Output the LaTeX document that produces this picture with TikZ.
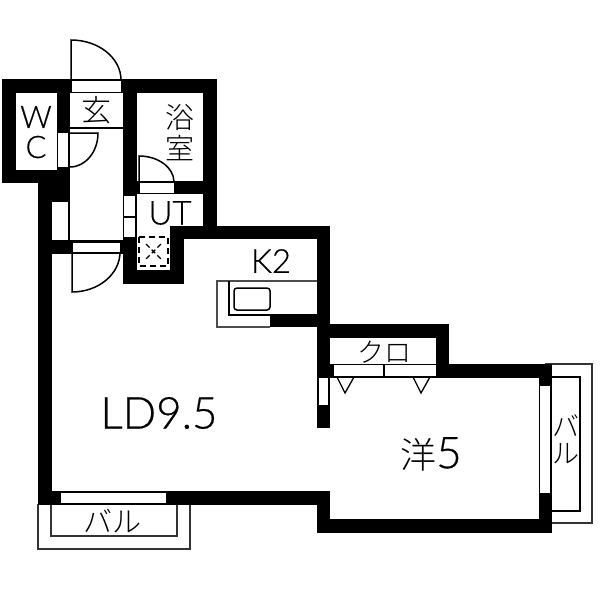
\documentclass[tikz,border=0pt]{standalone}
\usepackage{fontspec}
\setmainfont[FakeBold=0.5]{Lato Light}
\newfontfamily\cjk{Noto Sans CJK JP Light}
\usepackage{xcolor}
\usepackage{tikz}
\usetikzlibrary{positioning, calc}

\tikzset{
    wall/.style={fill=black, draw=none},
    opening/.style={fill=white, draw=black, line width=1pt},
    thinline/.style={draw=black, line width=1.3pt},
    door/.style={draw=black, line width=1.5pt},
    roomlabel/.style={inner sep=0pt, text=black}
}
\newcommand{\textsized}[1]{\fontsize{#1}{#1}\selectfont}

\begin{document}
\begin{tikzpicture}[x=1pt, y=-1pt]
                \useasboundingbox (0,0) rectangle (600,600);

                % balconies
                \draw[thinline, draw=black!80] (38,504) -- (38,549) -- (190,549) -- (190,504);
                \draw[thinline, line width=1.6pt, draw=black!80] (51,504) -- (51,536) -- (177,536) -- (177,504);
                \draw[thinline, draw=black!80] (545,364) -- (592,364) -- (592,523) -- (552,523);
                \draw[thinline, line width=1.6pt] (552,377) -- (580,377) -- (580,511) -- (552,511);

                % kitchen counter
                \draw[thinline, draw=black!70] (317,281) -- (217,281) -- (217,327) -- (270,327);
                \draw[thinline] (229,281) -- (229,315) -- (270,315);
                \draw[door, rounded corners=3pt] (234,288) rectangle (270,310);

                % walls
                \fill[wall] (2,79) rectangle (217,93);
                \fill[wall] (2,79) rectangle (16,183);
                \fill[wall] (2,170) rectangle (70,183);
                \fill[wall] (57,79) rectangle (70,202);
                \fill[wall] (38,183) rectangle (52,505);
                \fill[wall] (52,183) rectangle (70,202);
                \fill[wall] (38,240) rectangle (123,254);
                \fill[wall] (123,79) rectangle (137,284);
                \fill[wall] (123,270) rectangle (184,284);
                \fill[wall] (170,226) rectangle (184,284);
                \fill[wall] (137,181) rectangle (217,194);
                \fill[wall] (203,79) rectangle (217,239);
                \fill[wall] (170,226) rectangle (330,239);
                \fill[wall] (317,226) rectangle (330,428);
                \fill[wall] (270,314) rectangle (317,327);
                \fill[wall] (317,324) rectangle (449,338);
                \fill[wall] (436,324) rectangle (449,378);
                \fill[wall] (330,364) rectangle (333,378);
                \draw[thinline] (333,377) -- (436,377);
                \fill[wall] (436,364) rectangle (552,378);
                \fill[wall] (539,364) rectangle (552,533);
                \fill[wall] (317,519) rectangle (552,533);
                \fill[wall] (317,491) rectangle (330,533);
                \fill[wall] (38,491) rectangle (330,505);

                % openings
                \draw[opening] (71,80) rectangle (121,92);
                \fill[white] (58,133) rectangle (69,167);
                \fill[white] (52,202) rectangle (68,240);
                \draw[opening] (72,242) rectangle (120,252);
                \draw[opening] (139,182) rectangle (174,193);
                \fill[white] (124,196) rectangle (135,237);
                \draw[thinline] (124,217) -- (135,217);
                \fill[white] (319,378) rectangle (328,405);
                \fill[white] (540,386) rectangle (550,493);
                \fill[white] (61,493) rectangle (166,503);
                \draw[opening] (333,364) rectangle (436,376);
                \draw[thinline] (384,364) -- (384,376);

                % entrance hall lines
                \draw[thinline] (69,93) -- (69,240);
                \draw[thinline] (70,128) -- (123,128);

                % doors
                \draw[door] (71,80) -- (71,40) arc [start angle=-90, end angle=0, x radius=50, y radius=40];
                \draw[door] (70,133) -- (98,133) arc [start angle=0, end angle=90, x radius=28, y radius=34];
                \draw[door] (72,252) -- (72,292) arc [start angle=90, end angle=0, x radius=48, y radius=40];
                \draw[door] (139,182) -- (139,156) arc [start angle=-90, end angle=0, x radius=35, y radius=26];

                % pipe space
                \draw[line width=2pt, dash pattern=on 6pt off 4pt] (139,237) rectangle (168,266);
                \draw[thinline, dash pattern=on 5pt off 3pt] (146,244) -- (161,259) (161,244) -- (146,259);

                % closet door marks
                \draw[thinline] (337,377) -- (345,393) -- (354,377);
                \draw[thinline] (413,377) -- (421,393) -- (430,377);

                % labels
                \node[roomlabel] (w) at (36,117) {\textsized{31}W};
                \node[roomlabel] (c) at (36,147) {\textsized{31}C};
                \node[roomlabel] (genkan) at (96,110) {\cjk\textsized{30}玄};
                \node[roomlabel] (yoku) at (180,118) {\cjk\textsized{29}浴};
                \node[roomlabel] (shitsu) at (180,148) {\cjk\textsized{29}室};
                \node[roomlabel] (ut) at (170,213) {\textsized{33}UT};
                \node[roomlabel] (k2) at (271,261) {\textsized{33}K2};
                \node[roomlabel] (kuro) at (384,352) {\cjk\textsized{27}クロ};
                \node[roomlabel] (ld) at (159,413) {\textsized{44}LD9.5};
                \node[roomlabel] (yoshitsu) at (431,454) {\cjk\textsized{36}洋{\rmfamily\textsized{44}5}};
                \node[roomlabel] (ba) at (566,426) {\cjk\textsized{27}バ};
                \node[roomlabel] (ru) at (566,454) {\cjk\textsized{27}ル};
                \node[roomlabel] (balcony) at (112,521) {\cjk\textsized{29}バル};
            \end{tikzpicture}
\end{document}
